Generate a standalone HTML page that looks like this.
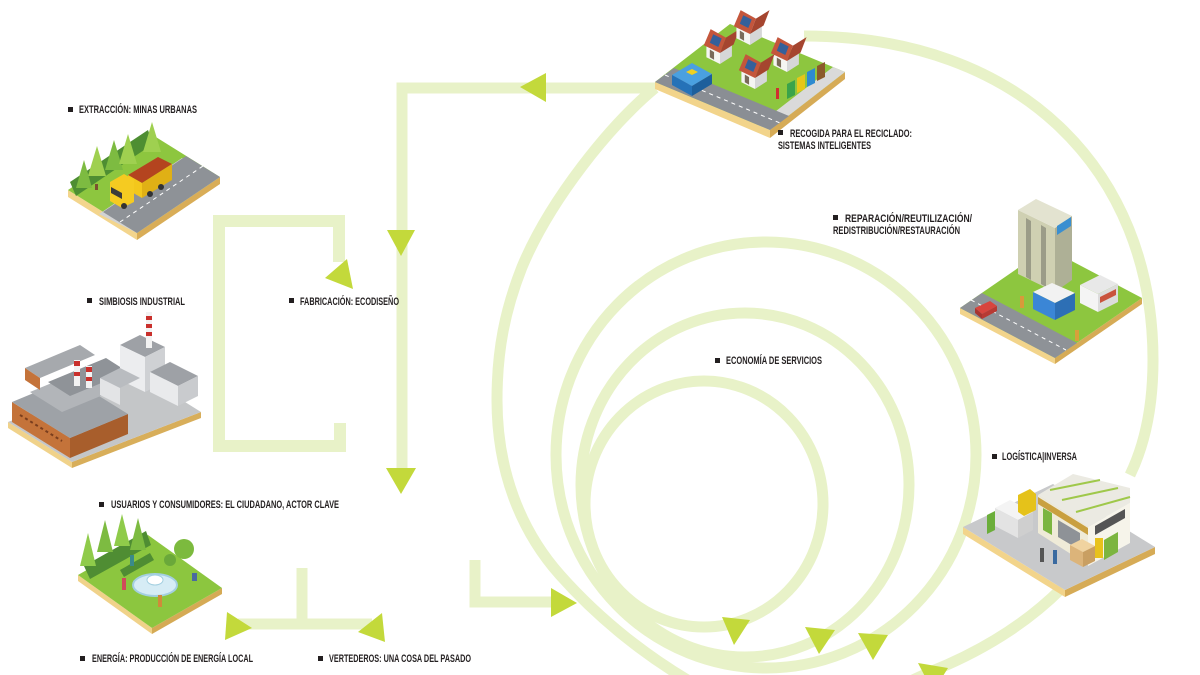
<!DOCTYPE html>
<html><head><meta charset="utf-8">
<style>
html,body{margin:0;padding:0;background:#fff;}
svg{display:block}
text{font-family:"Liberation Sans Narrow","Liberation Sans",sans-serif;font-weight:bold;font-size:11px;fill:#231f20;}
</style></head><body>
<svg width="1200" height="675" viewBox="0 0 1200 675" xmlns="http://www.w3.org/2000/svg">
<defs>
<g id="house">
  <polygon points="-16,-8 0,0 0,-16 -16,-24" fill="#f5f5f2"/>
  <polygon points="0,0 14,-9 14,-25 0,-16" fill="#d6d7d8"/>
  <polygon points="-19,-22 0,-13 7,-31 -11,-41" fill="#c4563c"/>
  <polygon points="0,-13 16,-23 23,-41 7,-31" fill="#a5452f"/>
  <polygon points="-12,-25 -2,-20 2,-30 -8,-35" fill="#35609b"/>
  <polygon points="-12,-8 -7,-5 -7,-14 -12,-17" fill="#7a6a5a"/>
</g>
</defs>
<rect width="1200" height="675" fill="#fff"/>

<!-- connectors -->
<g fill="none" stroke="#e8f2c8" stroke-width="11">
  <ellipse cx="766" cy="455" rx="210" ry="213"/>
  <ellipse cx="745" cy="485" rx="164" ry="172"/>
  <ellipse cx="704" cy="504" rx="119" ry="123"/>
  <path d="M655,88 C610,125 550,200 522,267 C505,310 497,350 497,400 C497,470 520,530 560,575 C600,620 650,660 705,690"/>
  <path d="M804,36 C1020,36 1153,170 1153,360 C1153,400 1147,440 1130,475"/>
  <path d="M1062,588 Q1010,640 930,672 L870,700"/>
  <polyline points="655,88 402,88 402,469"/>
  <polyline points="339,262 339,221 219,221 219,446 340,446 340,423" stroke-width="12"/>
  <polyline points="302,568 302,624"/>
  <polyline points="238,624 372,624"/>
  <polyline points="475,560 475,602 560,602"/>
</g>

<!-- arrowheads -->
<g fill="#c3d93b">
  <polygon points="520,87 546,73 546,102"/>
  <polygon points="387,230 415,230 401,256"/>
  <polygon points="386,468 416,468 401,494"/>
  <polygon points="325,278 347,259 353,289"/>
  <polygon points="227,612 225,640 252,628"/>
  <polygon points="358,632 382,613 385,642"/>
  <polygon points="551,588 551,617 577,603"/>
  <polygon points="722,617 750,620 734,645"/>
  <polygon points="805,627 835,630 819,654"/>
  <polygon points="858,633 888,635 873,660"/>
  <polygon points="918,663 948,668 933,692"/>
</g>

<!-- ===== Truck / extraction ===== -->
<g>
  <polygon points="68,190 137,233 137,240 68,197" fill="#f3d58d"/>
  <polygon points="137,233 220,177 220,184 137,240" fill="#d9ad57"/>
  <polygon points="68,190 151,134 220,177 137,233" fill="#8dc63f"/>
  <polygon points="99,214 182,158 220,177 137,233" fill="#d2d3d4"/>
  <polygon points="103,212 186,156 220,177 137,233" fill="#8e9297"/>
  <line x1="120" y1="222" x2="203" y2="166" stroke="#fff" stroke-width="1" stroke-dasharray="4 4"/>
  <polygon points="70,182 148,130 153,144 76,196" fill="#4e8e32"/>
  <polygon points="97,146 88,176 106,176" fill="#9fd050"/>
  <polygon points="114,140 105,170 123,170" fill="#7dbb41"/>
  <polygon points="128,134 119,164 137,164" fill="#9fd050"/>
  <polygon points="152,122 143,152 161,152" fill="#9fd050"/>
  <polygon points="84,160 76,188 92,188" fill="#7dbb41"/>
  <rect x="95" y="184" width="3" height="6" fill="#7a5030"/>
  <polygon points="128,175 158,157 172,164 142,183" fill="#b4441f"/>
  <polygon points="128,175 142,183 142,198 128,190" fill="#f3c71c"/>
  <polygon points="142,183 172,164 172,180 142,198" fill="#e0b015"/>
  <polygon points="110,182 124,174 134,180 134,202 122,208 110,201" fill="#f5cb21"/>
  <polygon points="111,187 122,193 122,199 111,193" fill="#3b3b3b"/>
  <circle cx="124" cy="206" r="3" fill="#333"/>
  <circle cx="150" cy="194" r="3" fill="#333"/>
  <circle cx="161" cy="187" r="3" fill="#333"/>
</g>

<!-- ===== Factory ===== -->
<g>
  <polygon points="8,422 72,462 72,468 8,428" fill="#f0d28a"/>
  <polygon points="72,462 201,412 201,418 72,468" fill="#d8ae5a"/>
  <polygon points="8,422 137,372 201,412 72,462" fill="#c4c6c8"/>
  <polygon points="12,402 70,438 70,458 12,422" fill="#c4733a"/>
  <polygon points="70,438 128,414 128,434 70,458" fill="#a85e2c"/>
  <polygon points="12,402 70,378 128,414 70,438" fill="#9ea2a7"/>
  <polygon points="30,392 88,368 120,388 62,412" fill="#b2b5b9"/>
  <polygon points="48,382 106,358 128,372 70,396" fill="#8f9398"/>
  <polygon points="25,368 80,345 95,355 40,378" fill="#a6a9ad"/>
  <polygon points="25,368 40,378 40,390 25,380" fill="#c4733a"/>
  <line x1="20" y1="415" x2="62" y2="441" stroke="#7a3e1e" stroke-width="2" stroke-dasharray="3 3"/>
  <polygon points="120,345 140,335 165,347 145,357" fill="#9ea1a6"/>
  <polygon points="120,345 145,357 145,392 120,380" fill="#ecedef"/>
  <polygon points="145,357 165,347 165,382 145,392" fill="#cfd1d4"/>
  <polygon points="150,372 170,362 198,376 178,386" fill="#9ea1a6"/>
  <polygon points="150,372 178,386 178,406 150,392" fill="#e9eaec"/>
  <polygon points="178,386 198,376 198,396 178,406" fill="#c9cbce"/>
  <polygon points="100,378 120,368 140,378 120,388" fill="#b9bcc0"/>
  <polygon points="100,378 120,388 120,405 100,395" fill="#e3e4e6"/>
  <rect x="146" y="312" width="6" height="36" fill="#f2f2f2"/>
  <rect x="146" y="316" width="6" height="4" fill="#c9302c"/>
  <rect x="146" y="324" width="6" height="4" fill="#c9302c"/>
  <rect x="146" y="332" width="6" height="4" fill="#c9302c"/>
  <rect x="74" y="360" width="6" height="26" fill="#f2f2f2"/>
  <rect x="74" y="361" width="6" height="5" fill="#c9302c"/>
  <rect x="74" y="372" width="6" height="4" fill="#c9302c"/>
  <rect x="86" y="366" width="6" height="22" fill="#f2f2f2"/>
  <rect x="86" y="367" width="6" height="5" fill="#c9302c"/>
  <rect x="86" y="377" width="6" height="4" fill="#c9302c"/>
</g>

<!-- ===== Park ===== -->
<g>
  <polygon points="78,575 152,628 152,634 78,581" fill="#f0d28a"/>
  <polygon points="152,628 222,588 222,594 152,634" fill="#d5aa55"/>
  <polygon points="78,575 148,535 222,588 152,628" fill="#8cc63f"/>
  <polygon points="84,566 146,531 151,545 90,579" fill="#4f8d33"/>
  <polygon points="120,570 150,553 154,560 124,577" fill="#4f8d33"/>
  <polygon points="88,533 80,566 96,566" fill="#8fcb4a"/>
  <polygon points="105,520 97,552 113,552" fill="#7dbb41"/>
  <polygon points="122,514 114,546 130,546" fill="#8fcb4a"/>
  <polygon points="138,518 130,550 146,550" fill="#7dbb41"/>
  <circle cx="184" cy="549" r="10" fill="#7cba3e"/>
  <circle cx="170" cy="560" r="6" fill="#6aa83a"/>
  <ellipse cx="155" cy="585" rx="22" ry="11" fill="#d6ecf5" stroke="#a3cfe0" stroke-width="2"/>
  <ellipse cx="155" cy="580" rx="8" ry="5" fill="#fff" stroke="#a3cfe0"/>
  <rect x="122" y="578" width="4" height="12" fill="#d04a5a"/>
  <rect x="158" y="595" width="4" height="12" fill="#d08a3a"/>
  <rect x="130" y="555" width="4" height="11" fill="#3a8a8a"/>
  <rect x="192" y="573" width="5" height="8" fill="#4a6aa0"/>
</g>

<!-- ===== Houses / collection ===== -->
<g>
  <polygon points="655,82 770,130 770,138 655,89" fill="#f2d48b"/>
  <polygon points="770,130 845,72 845,79 770,138" fill="#d6ab56"/>
  <polygon points="655,82 730,24 845,72 770,130" fill="#8dc63f"/>
  <polygon points="770,130 845,72 833,67 758,125" fill="#dadada"/>
  <polygon points="655,82 770,130 789,116 674,68" fill="#8a8e94"/>
  <line x1="665" y1="75" x2="780" y2="123" stroke="#fff" stroke-width="1" stroke-dasharray="4 4"/>
  <use href="#house" transform="translate(720,64) scale(0.85)"/>
  <use href="#house" transform="translate(750,45) scale(0.85)"/>
  <use href="#house" transform="translate(787,72) scale(0.85)"/>
  <use href="#house" transform="translate(755,89) scale(0.85)"/>
  <polygon points="672,75 692,63 712,74 692,86" fill="#4aa0e0"/>
  <polygon points="672,75 692,86 692,96 672,85" fill="#2572b8"/>
  <polygon points="692,86 712,74 712,84 692,96" fill="#1d5f9c"/>
  <polygon points="686,72 692,69 698,72 692,75" fill="#f0d020"/>
  <polygon points="787,84 795,80 795,95 787,99" fill="#3aa34a"/>
  <polygon points="797,78 805,74 805,89 797,93" fill="#e6c619"/>
  <polygon points="807,72 815,68 815,83 807,87" fill="#2e8bd0"/>
  <polygon points="817,66 825,62 825,77 817,81" fill="#8b5a2b"/>
  <rect x="776" y="88" width="3" height="11" fill="#d03030"/>
</g>

<!-- ===== Building / repair ===== -->
<g>
  <polygon points="960,308 1055,358 1055,364 960,314" fill="#f2d48b"/>
  <polygon points="1055,358 1142,298 1142,304 1055,364" fill="#d6ab56"/>
  <polygon points="960,308 1047,248 1142,298 1055,358" fill="#8dc63f"/>
  <polygon points="960,308 1055,358 1077,343 982,293" fill="#8e9297"/>
  <line x1="971" y1="300" x2="1066" y2="350" stroke="#fff" stroke-width="1" stroke-dasharray="4 4"/>
  <polygon points="1018,210 1055,228 1055,292 1018,274" fill="#cfd0b2"/>
  <polygon points="1055,228 1072,216 1072,280 1055,292" fill="#aeb096"/>
  <polygon points="1018,210 1036,199 1072,216 1055,228" fill="#e3e3d0"/>
  <polygon points="1026,218 1031,221 1031,280 1026,277" fill="#9b9c88"/>
  <polygon points="1041,225 1046,228 1046,287 1041,284" fill="#9b9c88"/>
  <polygon points="1057,226 1071,217 1071,226 1057,235" fill="#3a8fd0"/>
  <polygon points="1033,292 1052,283 1075,293 1055,303" fill="#f2f2f2"/>
  <polygon points="1033,292 1055,303 1055,320 1033,309" fill="#3b86d6"/>
  <polygon points="1055,303 1075,293 1075,310 1055,320" fill="#2d6fb5"/>
  <polygon points="1080,285 1100,275 1118,284 1098,294" fill="#e8e8e8"/>
  <polygon points="1080,285 1098,294 1098,312 1080,303" fill="#f4f4f4"/>
  <polygon points="1098,294 1118,284 1118,302 1098,312" fill="#dcdcdc"/>
  <polygon points="1100,297 1116,289 1116,295 1100,303" fill="#c9533d"/>
  <polygon points="975,308 990,301 997,306 982,314" fill="#d8453e"/>
  <polygon points="975,308 982,314 982,319 975,313" fill="#a83530"/>
  <polygon points="982,314 997,306 997,311 982,319" fill="#b83a33"/>
  <rect x="1020" y="296" width="4" height="12" fill="#d89a3a"/>
  <rect x="1075" y="330" width="4" height="11" fill="#d8a03a"/>
</g>

<!-- ===== Logistics ===== -->
<g>
  <polygon points="963,527 1065,590 1065,597 963,534" fill="#f2d48b"/>
  <polygon points="1065,590 1155,547 1155,554 1065,597" fill="#d6ab56"/>
  <polygon points="963,527 1053,484 1155,547 1065,590" fill="#c8c9cb"/>
  <polygon points="1038,495 1073,474 1130,488 1130,503 1088,527" fill="#ebeae2"/>
  <line x1="1050" y1="490" x2="1100" y2="480" stroke="#9fc84a" stroke-width="2"/>
  <line x1="1062" y1="500" x2="1118" y2="488" stroke="#9fc84a" stroke-width="2"/>
  <line x1="1076" y1="512" x2="1130" y2="497" stroke="#9fc84a" stroke-width="2"/>
  <polygon points="1038,495 1088,527 1088,565 1038,533" fill="#efebd8"/>
  <polygon points="1088,527 1130,503 1130,543 1088,566" fill="#f6f4ea"/>
  <polygon points="1038,497 1088,528 1088,535 1038,504" fill="#c9a040"/>
  <polygon points="1043,508 1052,513 1052,535 1043,530" fill="#7cb540"/>
  <polygon points="1058,520 1080,533 1080,550 1058,537" fill="#8e9297"/>
  <polygon points="1095,526 1125,509 1125,518 1095,535" fill="#555"/>
  <polygon points="1104,540 1118,532 1118,552 1104,560" fill="#7cb540"/>
  <polygon points="995,508 1010,500 1033,512 1018,520" fill="#f4f4f4"/>
  <polygon points="995,508 1018,520 1018,538 995,526" fill="#e3e3e3"/>
  <polygon points="1018,520 1033,512 1033,530 1018,538" fill="#cfcfcf"/>
  <polygon points="987,515 995,511 995,530 987,534" fill="#6bae3a"/>
  <polygon points="1018,495 1030,489 1036,494 1036,510 1024,516 1018,512" fill="#e5c21a"/>
  <polygon points="1070,545 1082,539 1095,546 1083,552" fill="#f0d3a0"/>
  <polygon points="1070,545 1083,552 1083,567 1070,560" fill="#dcb47a"/>
  <polygon points="1083,552 1095,546 1095,561 1083,567" fill="#c99f62"/>
  <rect x="1095" y="538" width="8" height="20" fill="#e8c21c"/>
  <rect x="1040" y="548" width="4" height="14" fill="#555"/>
  <rect x="1053" y="550" width="4" height="14" fill="#3a6aa0"/>
</g>

<!-- ===== Labels ===== -->
<g fill="#231f20">
  <rect x="68" y="107" width="5" height="5"/>
  <rect x="87" y="298" width="5" height="5"/>
  <rect x="289" y="298" width="5" height="5"/>
  <rect x="99" y="502" width="5" height="5"/>
  <rect x="80" y="656" width="5" height="5"/>
  <rect x="318" y="656" width="5" height="5"/>
  <rect x="778" y="130" width="5" height="5"/>
  <rect x="833" y="215" width="5" height="5"/>
  <rect x="715" y="358" width="5" height="5"/>
  <rect x="992" y="454" width="5" height="5"/>
</g>
<text x="79" y="113" textLength="118" lengthAdjust="spacingAndGlyphs">EXTRACCIÓN: MINAS URBANAS</text>
<text x="99" y="305" textLength="86" lengthAdjust="spacingAndGlyphs">SIMBIOSIS INDUSTRIAL</text>
<text x="300" y="305" textLength="99" lengthAdjust="spacingAndGlyphs">FABRICACIÓN: ECODISEÑO</text>
<text x="111" y="508" textLength="228" lengthAdjust="spacingAndGlyphs">USUARIOS Y CONSUMIDORES: EL CIUDADANO, ACTOR CLAVE</text>
<text x="92" y="662" textLength="161" lengthAdjust="spacingAndGlyphs">ENERGÍA: PRODUCCIÓN DE ENERGÍA LOCAL</text>
<text x="329" y="662" textLength="142" lengthAdjust="spacingAndGlyphs">VERTEDEROS: UNA COSA DEL PASADO</text>
<text x="790" y="137" textLength="122" lengthAdjust="spacingAndGlyphs">RECOGIDA PARA EL RECICLADO:</text>
<text x="778" y="149" textLength="93" lengthAdjust="spacingAndGlyphs">SISTEMAS INTELIGENTES</text>
<text x="845" y="222" textLength="127" lengthAdjust="spacingAndGlyphs">REPARACIÓN/REUTILIZACIÓN/</text>
<text x="833" y="234" textLength="127" lengthAdjust="spacingAndGlyphs">REDISTRIBUCIÓN/RESTAURACIÓN</text>
<text x="726" y="364" textLength="96" lengthAdjust="spacingAndGlyphs">ECONOMÍA DE SERVICIOS</text>
<text x="1002" y="460" textLength="75" lengthAdjust="spacingAndGlyphs">LOGÍSTICA|INVERSA</text>
</svg>
</body></html>
